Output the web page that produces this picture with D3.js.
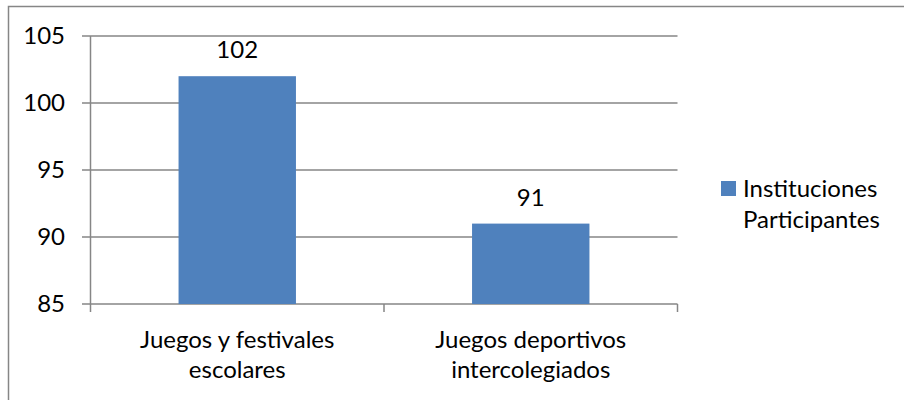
<!DOCTYPE html>
<html lang="es">
<head>
<meta charset="UTF-8">
<title>Instituciones Participantes</title>
<script src="https://d3js.org/d3.v7.min.js"></script>
<style>
  body { margin: 0; background: #fff; }
  text { font-family: Lato, "Open Sans", sans-serif; fill: #000; }
</style>
</head>
<body>
<script>
// datos
const categories = [["Juegos y festivales", "escolares"], ["Juegos deportivos", "intercolegiados"]];
const values = [102, 91];
const yTicks = [85, 90, 95, 100, 105];
const seriesName = ["Instituciones", "Participantes"];

const width = 904, height = 400;
const color = "#4F81BD", lineColor = "#868686";
const fs = 24;

const svg = d3.select("body").append("svg")
  .attr("width", width).attr("height", height);

// marco exterior
svg.append("rect")
  .attr("x", 8.5).attr("y", 6.5)
  .attr("width", 1000).attr("height", 1000)
  .attr("fill", "none").attr("stroke", lineColor).attr("stroke-width", 1.5);

const x = d3.scaleBand().domain(d3.range(values.length)).range([90.5, 677.5]).padding(0);
const y = d3.scaleLinear().domain([85, 105]).range([304, 36]);

// lineas de division
svg.append("g").selectAll("line").data(yTicks).enter().append("line")
  .attr("x1", 82).attr("x2", 677.5)
  .attr("y1", d => y(d)).attr("y2", d => y(d))
  .attr("stroke", lineColor).attr("stroke-width", 1.5);

// eje y
svg.append("line")
  .attr("x1", 90.5).attr("x2", 90.5).attr("y1", y(105)).attr("y2", y(85))
  .attr("stroke", lineColor).attr("stroke-width", 1.5);

svg.append("g").selectAll("text").data(yTicks).enter().append("text")
  .attr("x", 65).attr("y", d => y(d))
  .attr("dy", "0.35em")
  .attr("text-anchor", "end")
  .style("font-size", fs + "px")
  .text(d => d);

// marcas del eje x
const bounds = x.domain().map(d => x(d)).concat([x.range()[1]]);
svg.append("g").selectAll("line").data(bounds).enter().append("line")
  .attr("x1", d => d).attr("x2", d => d)
  .attr("y1", y(85)).attr("y2", y(85) + 8)
  .attr("stroke", lineColor).attr("stroke-width", 1.5);

// barras
const barW = x.bandwidth() * 0.4;
svg.append("g").selectAll("rect").data(values).enter().append("rect")
  .attr("x", (d, i) => x(i) + (x.bandwidth() - barW) / 2)
  .attr("y", d => y(d))
  .attr("width", barW)
  .attr("height", d => y(85) - y(d))
  .attr("fill", color);

// etiquetas de datos
svg.append("g").selectAll("text").data(values).enter().append("text")
  .attr("x", (d, i) => x(i) + x.bandwidth() / 2)
  .attr("y", d => y(d) - 18)
  .attr("text-anchor", "middle")
  .style("font-size", fs + "px")
  .text(d => d);

// etiquetas de categorias
const cat = svg.append("g").selectAll("text").data(categories).enter().append("text")
  .attr("text-anchor", "middle")
  .style("font-size", fs + "px");
cat.selectAll("tspan").data((d, i) => d.map(t => ({ t, i }))).enter().append("tspan")
  .attr("x", d => x(d.i) + x.bandwidth() / 2)
  .attr("y", (d, j) => 348 + j * 30)
  .text(d => d.t);

// leyenda
svg.append("rect")
  .attr("x", 721).attr("y", 181).attr("width", 15).attr("height", 15)
  .attr("fill", color);
svg.append("text")
  .style("font-size", fs + "px")
  .selectAll("tspan").data(seriesName).enter().append("tspan")
  .attr("x", 743).attr("y", (d, j) => 197 + j * 31)
  .text(d => d);
</script>
</body>
</html>
